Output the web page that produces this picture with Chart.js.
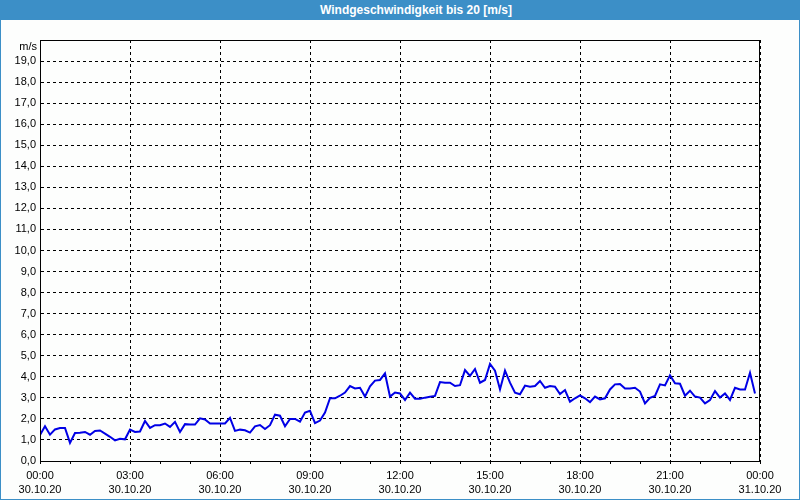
<!DOCTYPE html>
<html>
<head>
<meta charset="utf-8">
<script src="https://cdn.jsdelivr.net/npm/chart.js@4.4.0/dist/chart.umd.min.js"></script>
<style>
  html, body { margin: 0; padding: 0; background: #fdfefd; }
  #wrap { position: relative; width: 800px; height: 500px; overflow: hidden; background: #fdfefd; }
  #c { position: absolute; left: 0; top: 0; }
  #title { position: absolute; left: 0; top: 0; width: 800px; height: 20px; background: #3c8fc7;
           color: #fff; font: bold 12px "Liberation Sans", Arial, sans-serif; line-height: 20px;
           text-align: center; box-sizing: border-box; padding-left: 32px; }
  #frame { position: absolute; left: 0; top: 0; width: 800px; height: 500px; box-sizing: border-box;
           border: 1px solid #3c8fc7; pointer-events: none; }
</style>
</head>
<body>
<div id="wrap">
  <canvas id="c" width="800" height="500"></canvas>
  <div id="title">Windgeschwindigkeit bis 20 [m/s]</div>
  <div id="frame"></div>
</div>
<script>
// Data: wind speed [m/s] every 10 minutes from 00:00 (30.10.20)
const stepMinutes = 10;
const windSpeed = [
  1.24, 1.65, 1.25, 1.50, 1.57, 1.57, 0.86, 1.33, 1.34, 1.38,
  1.25, 1.43, 1.45, 1.30, 1.15, 0.98, 1.06, 1.03, 1.49, 1.38,
  1.40, 1.90, 1.57, 1.70, 1.70, 1.78, 1.62, 1.86, 1.38, 1.75,
  1.73, 1.73, 2.03, 1.97, 1.78, 1.78, 1.78, 1.78, 2.05, 1.43,
  1.49, 1.46, 1.35, 1.65, 1.71, 1.52, 1.70, 2.20, 2.15, 1.65,
  2.00, 2.00, 1.87, 2.30, 2.39, 1.80, 1.92, 2.30, 2.98, 2.98,
  3.10, 3.25, 3.56, 3.45, 3.48, 3.06, 3.55, 3.82, 3.85, 4.16,
  3.06, 3.25, 3.21, 2.90, 3.25, 2.96, 2.96, 3.01, 3.05, 3.09,
  3.75, 3.72, 3.72, 3.56, 3.60, 4.32, 4.04, 4.37, 3.72, 3.85,
  4.61, 4.29, 3.40, 4.29, 3.72, 3.25, 3.17, 3.58, 3.53, 3.56,
  3.80, 3.48, 3.56, 3.53, 3.18, 3.37, 2.82, 2.98, 3.12, 2.98,
  2.80, 3.06, 2.93, 2.98, 3.40, 3.64, 3.66, 3.44, 3.44, 3.48,
  3.30, 2.74, 3.00, 3.09, 3.64, 3.59, 4.07, 3.69, 3.67, 3.10,
  3.34, 3.06, 3.01, 2.74, 2.90, 3.32, 3.01, 3.21, 2.90, 3.48,
  3.40, 3.40, 4.19, 3.21
];
const xTickTimes = ["00:00","03:00","06:00","09:00","12:00","15:00","18:00","21:00","00:00"];
const xTickDates = ["30.10.20","30.10.20","30.10.20","30.10.20","30.10.20","30.10.20","30.10.20","30.10.20","31.10.20"];
const yUnit = "m/s";

const points = windSpeed.map((v, i) => ({ x: i * stepMinutes / 60, y: v }));
const FONT = { family: "'Liberation Sans', Arial, sans-serif", size: 11, lineHeight: 1.27 };

const framePlugin = {
  id: 'frame',
  afterDraw(chart) {
    const { ctx, chartArea: a } = chart;
    ctx.save();
    ctx.strokeStyle = '#000';
    ctx.lineWidth = 1;
    ctx.setLineDash([]);
    ctx.strokeRect(Math.round(a.left) + 0.5, Math.round(a.top) + 0.5,
                   Math.round(a.right - a.left) - 1, Math.round(a.bottom - a.top));
    ctx.fillStyle = '#000';
    ctx.font = "11px 'Liberation Sans', Arial, sans-serif";
    ctx.textAlign = 'right';
    ctx.textBaseline = 'middle';
    ctx.fillText(yUnit, a.left - 3, a.top + 7);
    ctx.restore();
  }
};

new Chart(document.getElementById('c'), {
  type: 'line',
  data: {
    datasets: [{
      data: points,
      borderColor: '#0000e6',
      borderWidth: 2,
      pointRadius: 0,
      tension: 0,
      fill: false
    }]
  },
  options: {
    responsive: false,
    animation: false,
    layout: { padding: { left: 0, right: 40, top: 40, bottom: 0 } },
    plugins: { legend: { display: false }, tooltip: { enabled: false }, title: { display: false } },
    scales: {
      x: {
        type: 'linear',
        min: 0, max: 24,
        afterFit(s) { s.height = 39; },
        ticks: {
          stepSize: 1,
          autoSkip: false,
          maxRotation: 0,
          color: '#000',
          font: FONT,
          padding: 5,
          callback(v) {
            if (v % 3 !== 0) return '';
            const k = v / 3;
            return [xTickTimes[k], xTickDates[k]];
          }
        },
        grid: {
          color(ctx) { return (ctx.tick && ctx.tick.value % 3 === 0) ? '#000' : 'rgba(0,0,0,0)'; },
          tickColor: '#000',
          tickLength: 3,
          tickBorderDash: [],
          borderDash: [3, 3],
          lineWidth: 1,
          drawTicks: true
        },
        border: { display: true, color: '#000', width: 1, dash: [3, 3] }
      },
      y: {
        min: 0, max: 20,
        afterFit(s) { s.width = 40; },
        ticks: {
          stepSize: 1,
          autoSkip: false,
          color: '#000',
          font: FONT,
          padding: 4,
          callback(v) { return v === 20 ? '' : v.toFixed(1).replace('.', ','); }
        },
        grid: {
          color: '#000',
          drawTicks: false,
          lineWidth: 1
        },
        border: { display: true, color: '#000', width: 1, dash: [3, 3] }
      }
    }
  },
  plugins: [framePlugin]
});
</script>
</body>
</html>
